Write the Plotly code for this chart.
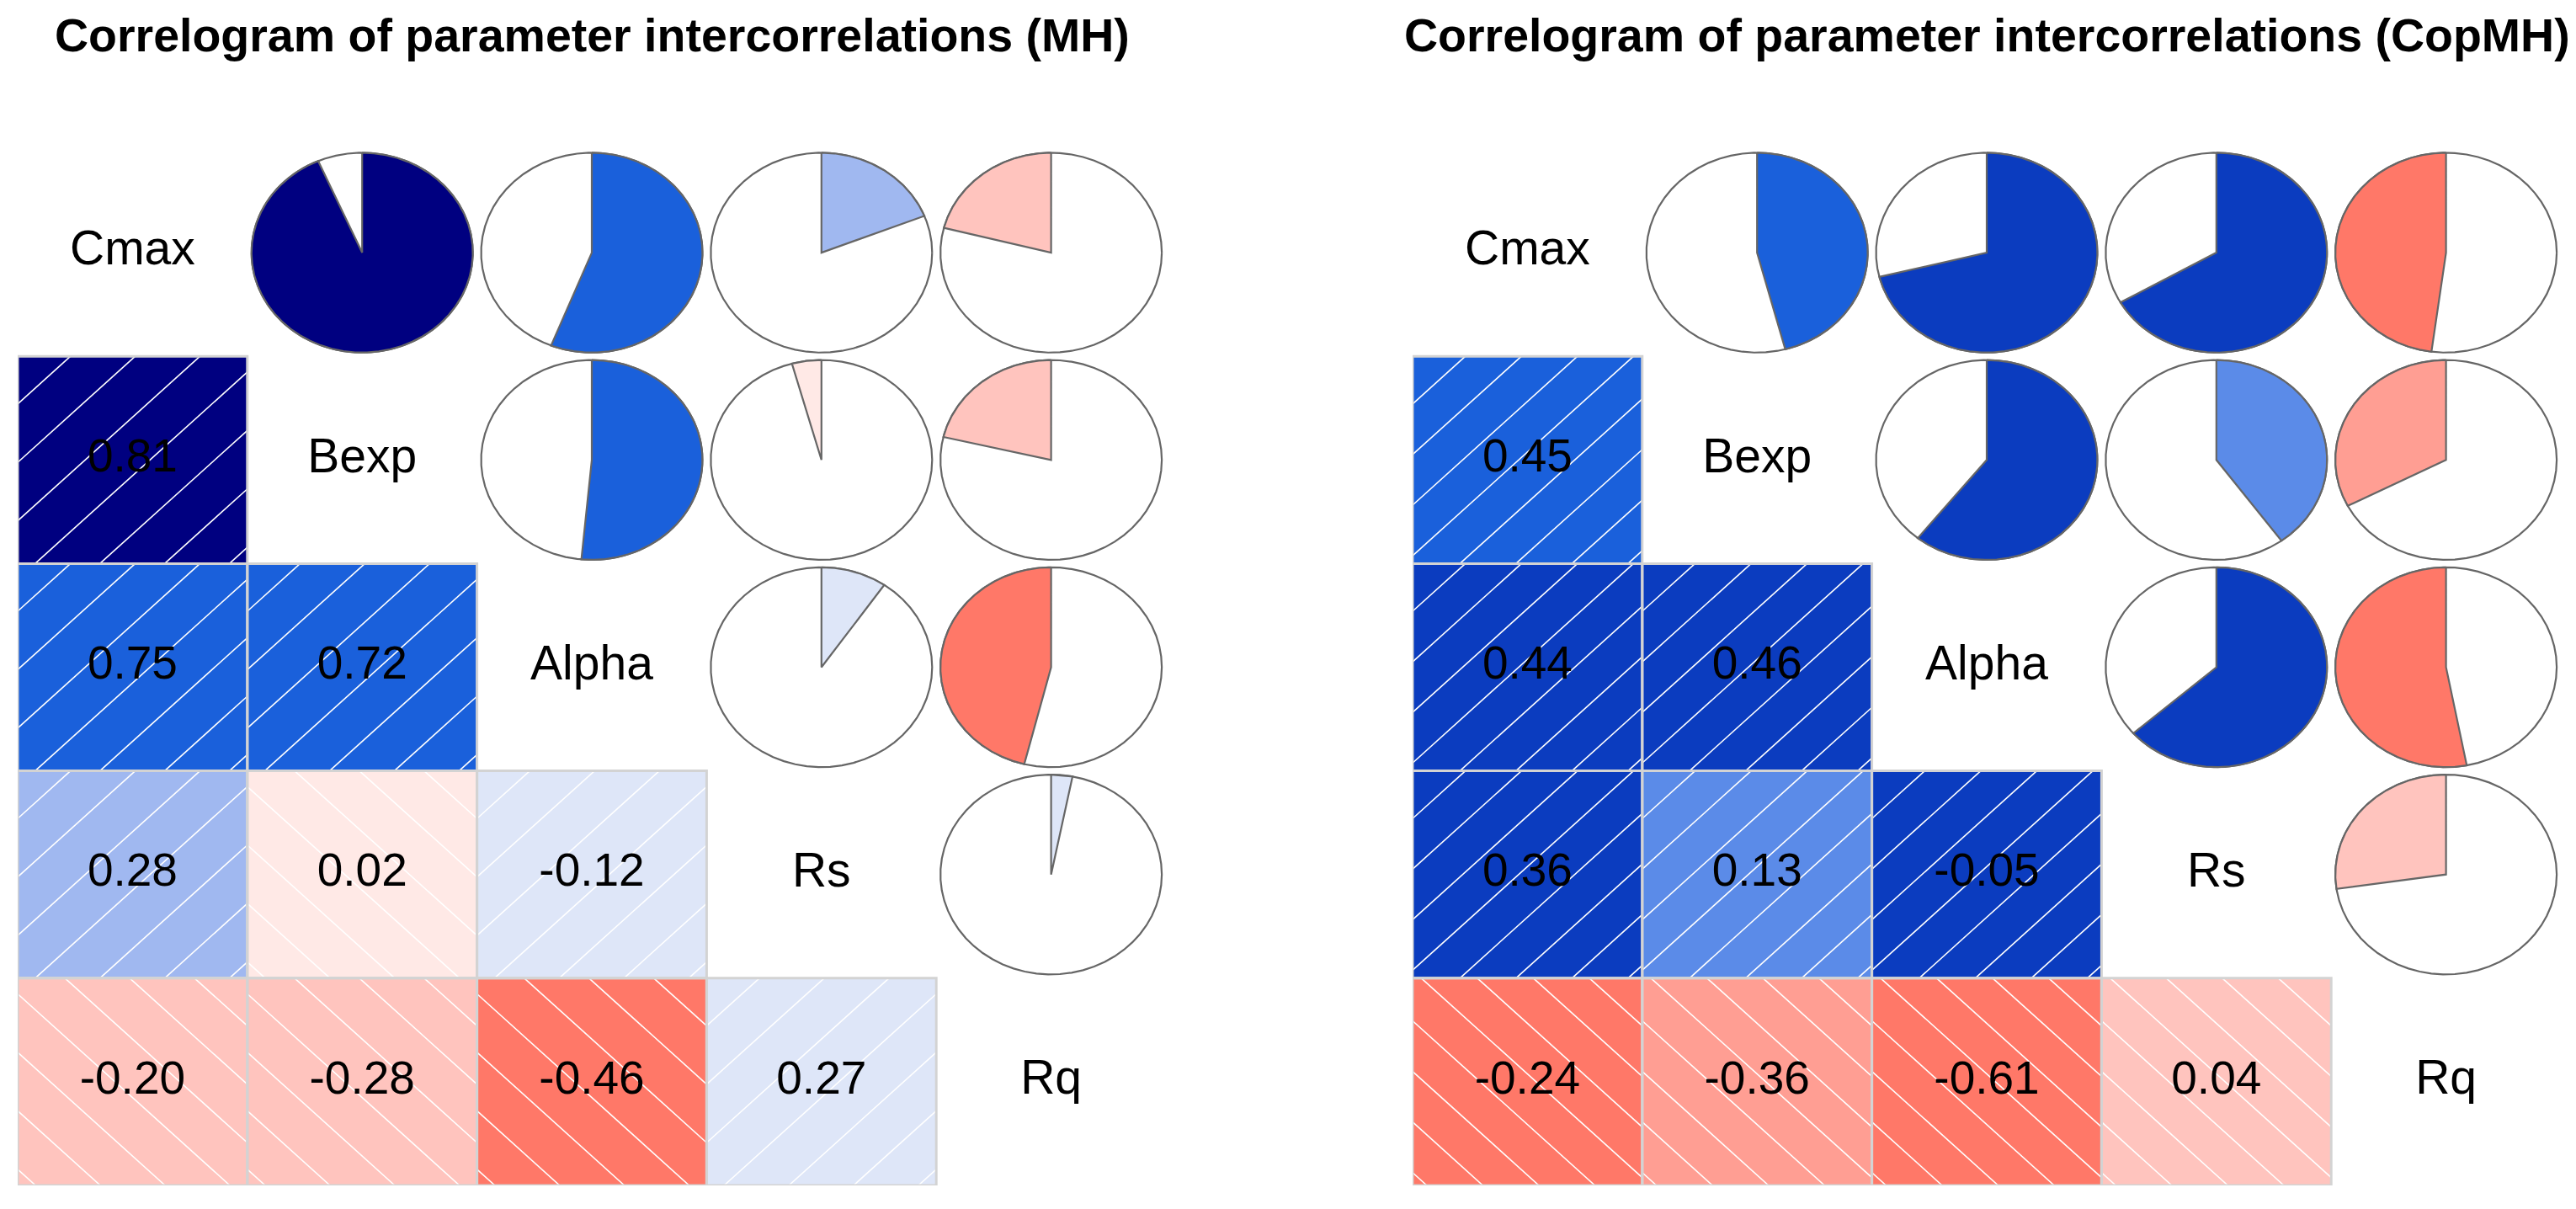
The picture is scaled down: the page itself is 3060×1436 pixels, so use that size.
import numpy as np
import plotly.graph_objects as go

# ---------------- data ----------------
labels = ["Cmax", "Bexp", "Alpha", "Rs", "Rq"]
# variable pairs (i, j) with i < j ; lower cell is (row j, col i), pie is (row i, col j)
pairs = [(0, 1), (0, 2), (0, 3), (0, 4), (1, 2), (1, 3), (1, 4), (2, 3), (2, 4), (3, 4)]

titles = ["Correlogram of parameter intercorrelations (MH)",
          "Correlogram of parameter intercorrelations (CopMH)"]

# printed values in the lower triangle
mh_text = [0.81, 0.75, 0.28, -0.20, 0.72, 0.02, -0.28, -0.12, -0.46, 0.27]
cop_text = [0.45, 0.44, 0.36, -0.24, 0.46, 0.13, -0.36, -0.05, -0.61, 0.04]

# correlations drawn as pies (upper triangle) and used for shading (lower triangle)
mh_pie = [0.935, 0.56, 0.19, -0.21, 0.515, -0.043, -0.213, 0.096, -0.461, 0.031]
cop_pie = [0.459, 0.711, 0.667, -0.479, 0.607, 0.40, -0.326, 0.635, -0.53, -0.273]

# 14-colour palette from -1 to 1 (red - salmon - white - royalblue - navy)
palette = ["#FF0000", "#FF2A1E", "#FF5040", "#FF7868", "#FF9E93", "#FFC4BE", "#FFE9E6",
           "#DEE6F8", "#A0B8F0", "#5B8BE8", "#1A60DB", "#0B3CBF", "#041C9E", "#000080"]

# ---------------- layout constants ----------------
W, H = 3060, 1436
panel_px = [(21, 1385), (1678, 3042)]
grid_top, grid_bottom = 177, 1408
hatch_step = [0.282, 0.244]
hatch_phase = 0.23
pie_rad = 0.482
n = len(labels)
FONT = "Liberation Sans, Arial, sans-serif"


def colour_of(r):
    k = int(np.ceil((r + 1) / (2.0 / 14)))
    k = min(max(k, 1), 14)
    return palette[k - 1]


fig = go.Figure()
annotations = []


def add_panel(p, text_vals, pie_vals, title):
    xa = "x" if p == 0 else "x2"
    ya = "y" if p == 0 else "y2"
    step = hatch_step[p]

    # --- lower triangle: shaded cells ---
    hx, hy = [], []
    bx, by = [], []
    for (i, j), rv in zip(pairs, pie_vals):
        row, col = j, i
        x0, x1, y0, y1 = col, col + 1, row, row + 1
        fig.add_trace(go.Scatter(
            x=[x0, x1, x1, x0, x0], y=[y0, y0, y1, y1, y0], xaxis=xa, yaxis=ya,
            mode="lines", fill="toself", fillcolor=colour_of(rv),
            line=dict(width=0), hoverinfo="skip", showlegend=False))
        # hatching (sign of the correlation gives the direction)
        u = hatch_phase
        while u < 2:
            if u > 0:
                if u <= 1:
                    pts = [(u, 0.0), (0.0, u)]
                else:
                    pts = [(1.0, u - 1), (u - 1, 1.0)]
                if rv < 0:
                    pts = [(1 - a, b) for a, b in pts]
                hx += [x0 + pts[0][0], x0 + pts[1][0], None]
                hy += [y0 + pts[0][1], y0 + pts[1][1], None]
            u += step
        bx += [x0, x1, x1, x0, x0, None]
        by += [y0, y0, y1, y1, y0, None]

    fig.add_trace(go.Scatter(x=hx, y=hy, xaxis=xa, yaxis=ya, mode="lines",
                             line=dict(color="white", width=1.6),
                             hoverinfo="skip", showlegend=False))
    fig.add_trace(go.Scatter(x=bx, y=by, xaxis=xa, yaxis=ya, mode="lines",
                             line=dict(color="#D3D3D3", width=3),
                             hoverinfo="skip", showlegend=False))

    # --- upper triangle: pies ---
    for (i, j), rv in zip(pairs, pie_vals):
        cx, cy = j + 0.5, i + 0.5
        ang = np.linspace(0, 2 * np.pi, 60)
        fig.add_trace(go.Scatter(
            x=cx + np.cos(ang) * pie_rad, y=cy - np.sin(ang) * pie_rad,
            xaxis=xa, yaxis=ya, mode="lines",
            line=dict(color="#666666", width=2.2),
            hoverinfo="skip", showlegend=False))
        seg = int(round(60 * abs(rv)))
        if seg > 0:
            a = np.linspace(np.pi / 2, np.pi / 2 - 2 * np.pi * rv, seg)
            px = list(cx + np.cos(a) * pie_rad) + [cx, cx + np.cos(a[0]) * pie_rad]
            py = list(cy - np.sin(a) * pie_rad) + [cy, cy - np.sin(a[0]) * pie_rad]
            fig.add_trace(go.Scatter(
                x=px, y=py, xaxis=xa, yaxis=ya, mode="lines", fill="toself",
                fillcolor=colour_of(rv), line=dict(color="#666666", width=2.2),
                hoverinfo="skip", showlegend=False))

    # --- numbers in lower cells ---
    fig.add_trace(go.Scatter(
        x=[i + 0.5 for i, j in pairs], y=[j + 0.5 for i, j in pairs],
        text=["%.2f" % v for v in text_vals], mode="text", xaxis=xa, yaxis=ya,
        textposition="middle center",
        textfont=dict(family=FONT, size=55, color="black"),
        hoverinfo="skip", showlegend=False))

    # --- diagonal labels ---
    fig.add_trace(go.Scatter(
        x=[k + 0.5 for k in range(n)], y=[k + 0.5 for k in range(n)],
        text=labels, mode="text", xaxis=xa, yaxis=ya,
        textposition="middle center",
        textfont=dict(family=FONT, size=57, color="black"),
        hoverinfo="skip", showlegend=False))

    left, right = panel_px[p]
    annotations.append(dict(
        text=title, xref="paper", yref="paper",
        x=(left + right) / 2 / W, y=1 - 42 / H, xanchor="center", yanchor="middle",
        showarrow=False, font=dict(family=FONT, size=55.5, color="black", weight="bold")))


add_panel(0, mh_text, mh_pie, titles[0])
add_panel(1, cop_text, cop_pie, titles[1])

ydom = [1 - grid_bottom / H, 1 - grid_top / H]
axis_common = dict(showgrid=False, zeroline=False, showticklabels=False, showline=False,
                   ticks="", fixedrange=True)
fig.update_layout(
    width=W, height=H, autosize=False,
    margin=dict(l=0, r=0, t=0, b=0),
    paper_bgcolor="white", plot_bgcolor="white",
    showlegend=False,
    xaxis=dict(domain=[panel_px[0][0] / W, panel_px[0][1] / W], range=[0, n], **axis_common),
    yaxis=dict(domain=ydom, range=[n, 0], anchor="x", **axis_common),
    xaxis2=dict(domain=[panel_px[1][0] / W, panel_px[1][1] / W], range=[0, n], anchor="y2",
                **axis_common),
    yaxis2=dict(domain=ydom, range=[n, 0], anchor="x2", **axis_common),
    annotations=annotations,
)

fig.write_html("out.html", config={"displayModeBar": False, "staticPlot": True},
               post_script="document.body.style.margin='0';document.body.style.overflow='hidden';")
